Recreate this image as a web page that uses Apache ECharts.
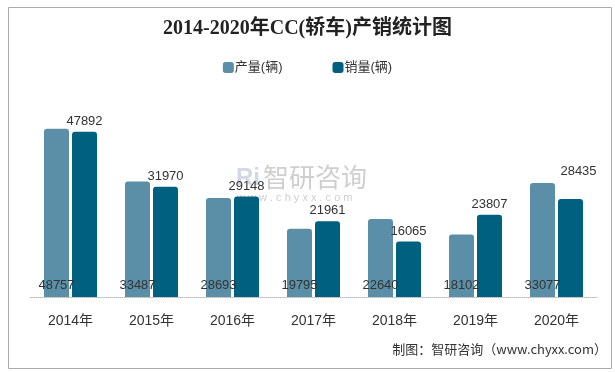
<!DOCTYPE html>
<html>
<head>
<meta charset="utf-8">
<script src="https://cdn.jsdelivr.net/npm/echarts@6/dist/echarts.min.js"></script>
<style>html,body{margin:0;padding:0;background:#fff;}#c{width:615px;height:372px;}</style>
</head>
<body>
<div id="c"></div>
<script>
const categories = ['2014年','2015年','2016年','2017年','2018年','2019年','2020年'];
const production = [48757,33487,28693,19795,22640,18102,33077];
const sales = [47892,31970,29148,21961,16065,23807,28435];
const seriesNames = ['产量(辆)','销量(辆)'];
const titleText = '2014-2020年CC(轿车)产销统计图';
const sourceText = '制图：智研咨询（www.chyxx.com）';

const chart = echarts.init(document.getElementById('c'), null, {renderer:'canvas'});
const labelFont = "'Liberation Sans', 'Noto Sans CJK SC', sans-serif";
const salesData = sales.map((v, i) => i === sales.length - 1
  ? {value: v, label: {offset: [8, -17]}}
  : v);
chart.setOption({
  animation: false,
  backgroundColor: '#fff',
  title: {
    text: titleText,
    left: 'center', top: 14,
    textStyle: {fontFamily: "'Liberation Serif', 'Noto Sans CJK SC', serif", fontSize: 20, fontWeight: 'bold', color: '#222'}
  },
  legend: {
    data: seriesNames,
    top: 56, left: 'center',
    itemWidth: 11, itemHeight: 11, itemGap: 50,
    icon: 'roundRect',
    textStyle: {fontFamily: labelFont, fontSize: 13, color: '#333', padding: [0,0,0,-4]}
  },
  grid: {left: 30, right: 18, top: 90, bottom: 75},
  xAxis: {
    type: 'category', data: categories,
    axisLine: {lineStyle: {color: '#bbb', type: 'dotted'}},
    axisTick: {show: false},
    axisLabel: {fontFamily: labelFont, fontSize: 14, color: '#333', margin: 17}
  },
  yAxis: {type: 'value', min: 0, max: 60000, show: false, splitLine: {show: false}},
  series: [
    {
      name: seriesNames[0], type: 'bar', data: production,
      barWidth: 25, barGap: '12%',
      itemStyle: {color: '#5b8fa7', borderRadius: [3,3,0,0]},
      label: {show: true, position: 'insideBottom', distance: 5, fontFamily: labelFont, fontSize: 13, color: '#333'}
    },
    {
      name: seriesNames[1], type: 'bar', data: salesData,
      barWidth: 25,
      itemStyle: {color: '#006080', borderRadius: [3,3,0,0]},
      label: {show: true, position: 'top', distance: 4, fontFamily: labelFont, fontSize: 13, color: '#333'}
    }
  ],
  graphic: [
    {type: 'rect', left: 6, top: 5, z: -10, silent: true,
     shape: {width: 603, height: 361}, style: {fill: 'none', stroke: '#aaa', lineWidth: 1}},
    {type: 'text', left: 236, top: 166, z: -5, silent: true,
     style: {text: 'Ri', fontFamily: labelFont, fontSize: 24, fontWeight: 'bold', fill: '#d3d9e3'}},
    {type: 'text', left: 263, top: 164, z: -5, silent: true,
     style: {text: '智研咨询', fontFamily: "'Noto Sans CJK SC', sans-serif", fontSize: 26, fill: '#cfcfcf', letterSpacing: 4}},
    {type: 'text', left: 237, top: 192, z: -5, silent: true,
     style: {text: 'w w w . c h y x x . c o m', fontFamily: labelFont, fontSize: 11, fill: '#cfcfcf', letterSpacing: 1}},
    {type: 'text', right: 8, top: 343, silent: true,
     style: {text: sourceText, fontFamily: "'Noto Sans CJK SC', sans-serif", fontSize: 13, fill: '#333'}}
  ]
});
</script>
</body>
</html>
